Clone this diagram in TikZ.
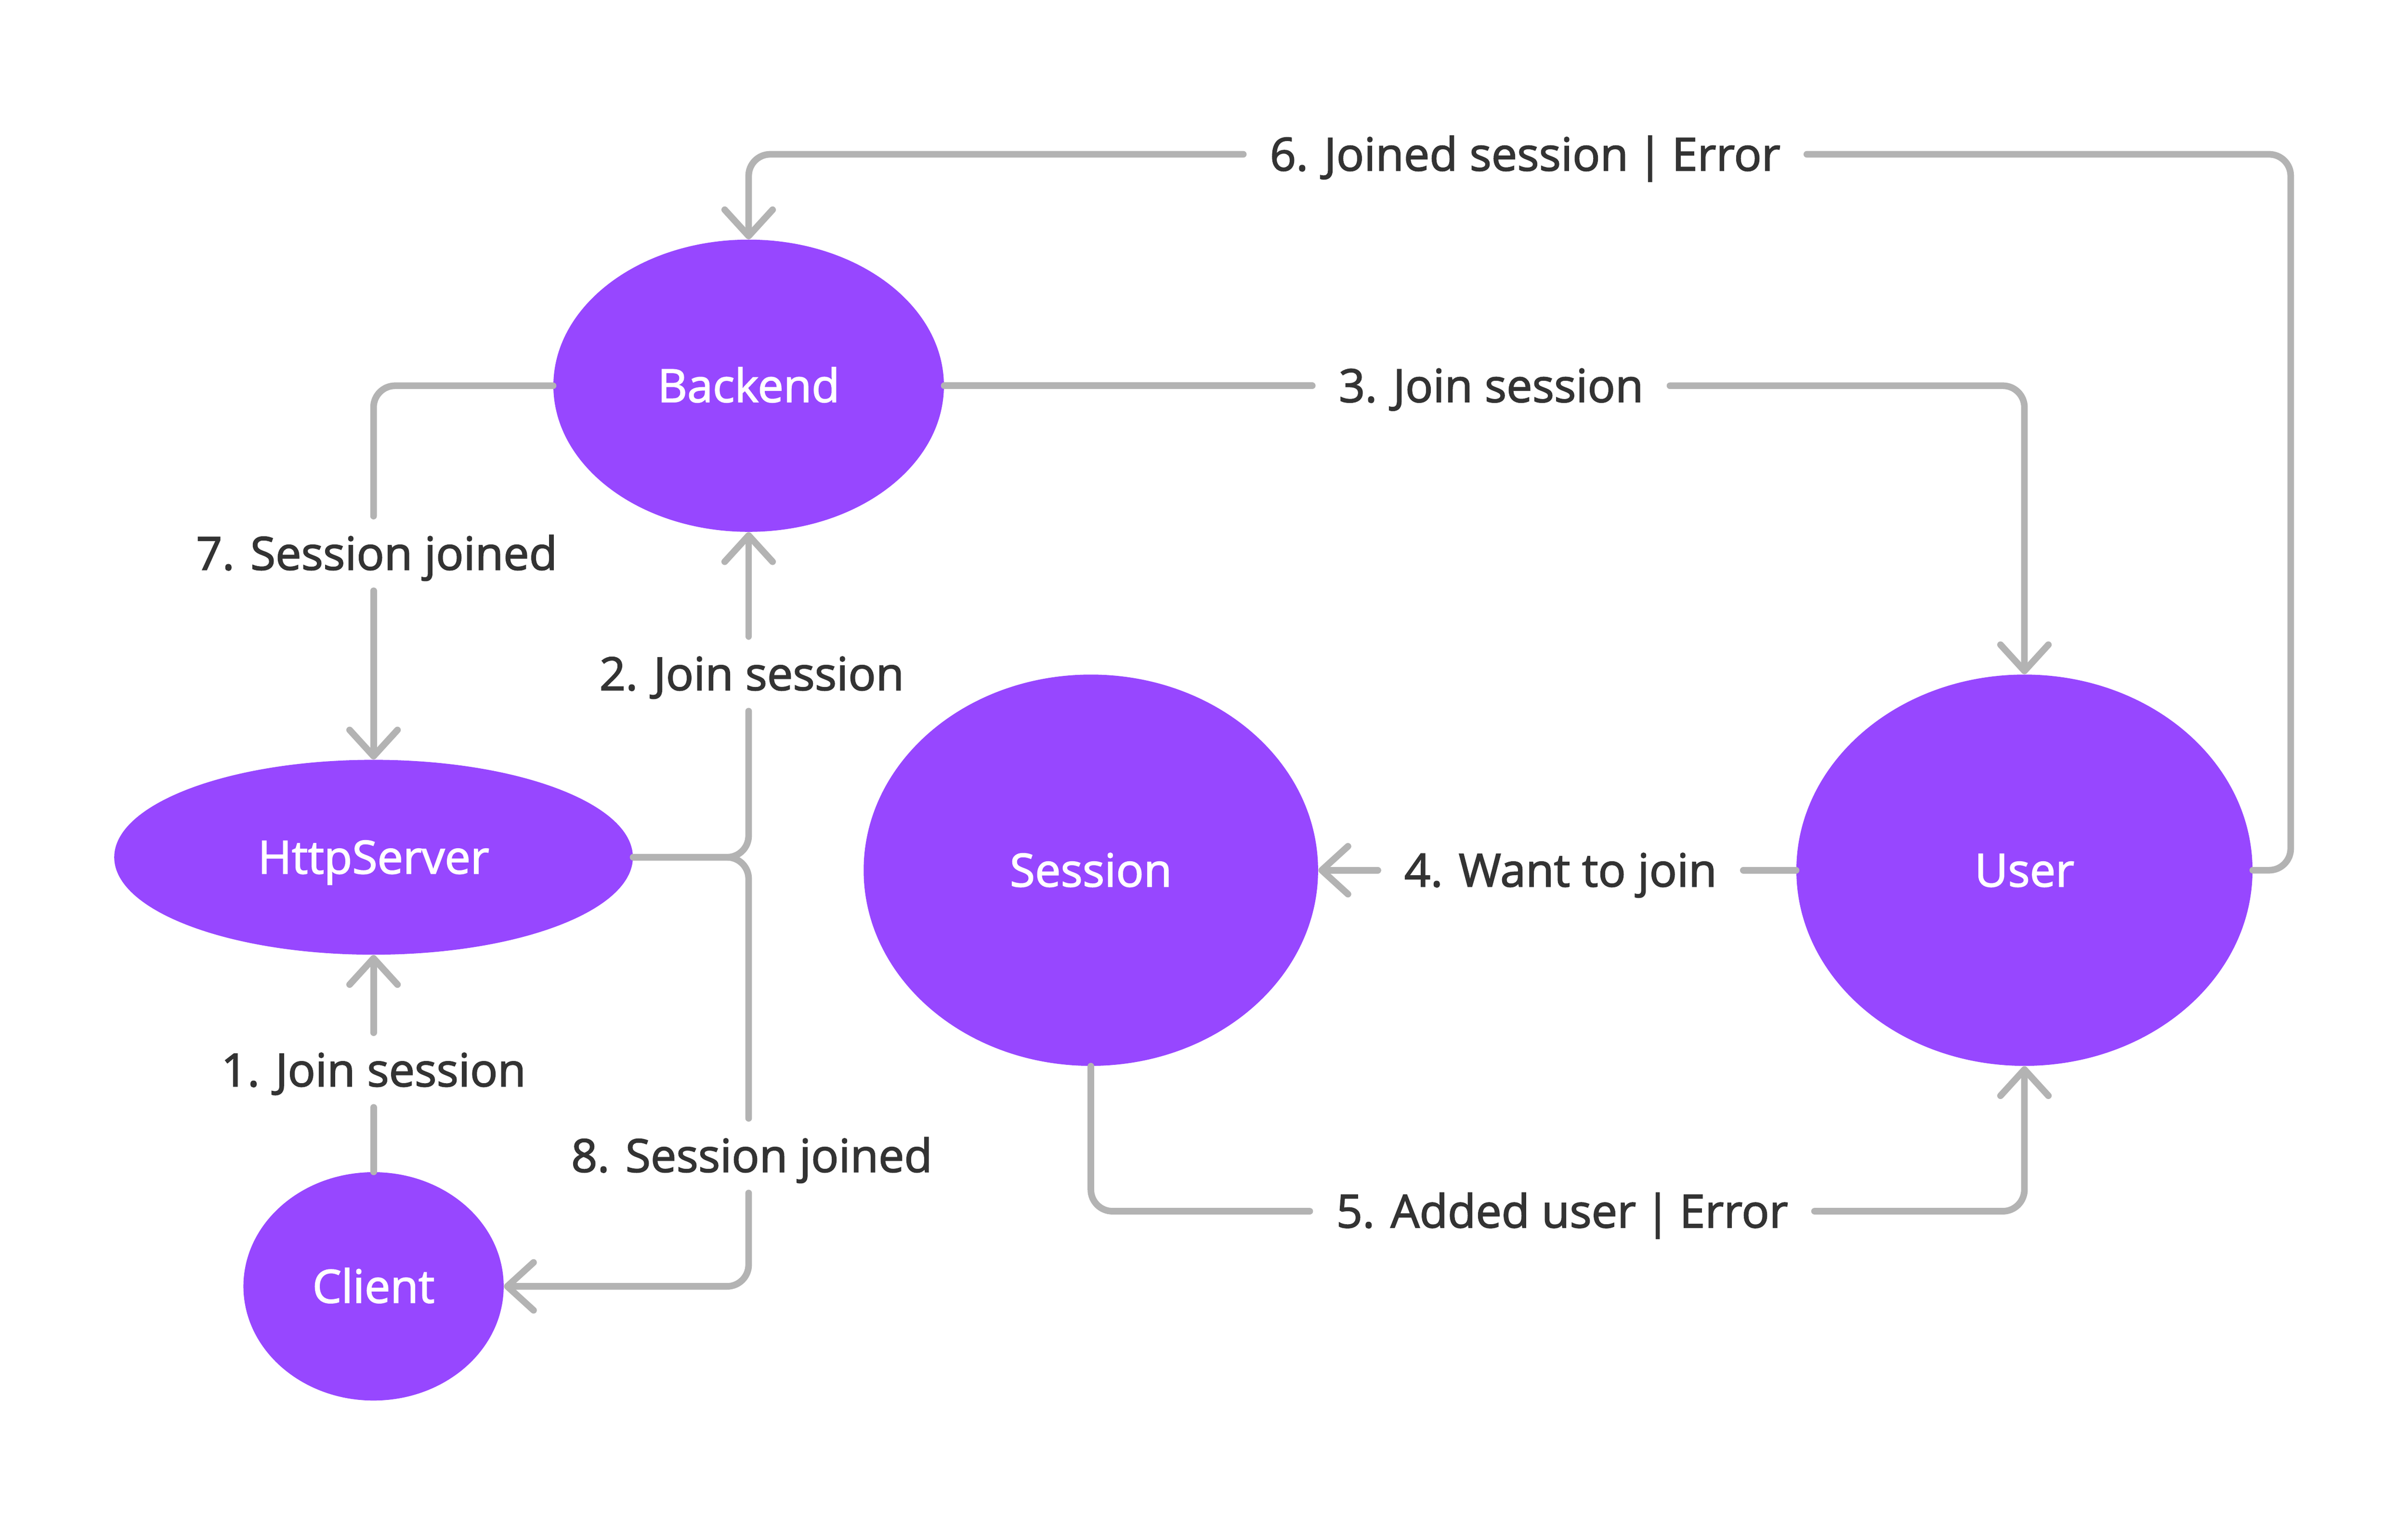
\documentclass[tikz,border=0pt]{standalone}
\usepackage{fontspec}
\setmainfont[FakeBold=2]{Open Sans}
\usetikzlibrary{arrows.meta,shapes.geometric}
\definecolor{nodepurple}{HTML}{9747FF}
\definecolor{linegray}{HTML}{B3B3B3}
\definecolor{textgray}{HTML}{333333}
\newcommand{\sepbar}{\hspace{0.2em}|\hspace{0.2em}}
\begin{document}
\begin{tikzpicture}[x=1pt,y=-1pt,
  every node/.style={font=\fontsize{29.7}{35}\selectfont},
  blob/.style={ellipse, fill=nodepurple, inner sep=0pt, text=white, text height=21.2pt, text depth=0pt},
  lbl/.style={text=textgray, inner xsep=17pt, inner ysep=13.4pt, text height=21.2pt, text depth=0pt},
  conn/.style={draw=linegray, line width=4.3pt, line cap=round, line join=round, rounded corners=14pt},
  arr/.style={conn, -{Straight Barb[length=17pt,width=31pt,round]}}
]
\useasboundingbox (0,0) rectangle (1560,981);

\node[blob, minimum width=253pt, minimum height=189.4pt] (backend) at (485,250) {Backend};
\node[blob, minimum width=336pt, minimum height=126.3pt] (http) at (242,555.6) {HttpServer};
\node[blob, minimum width=168.6pt, minimum height=148pt] (client) at (242,833.7) {Client};
\node[blob, minimum width=294.4pt, minimum height=253.6pt] (session) at (706.7,564) {Session};
\node[blob, minimum width=295.5pt, minimum height=253.6pt] (user) at (1311.5,564) {User};

\node[lbl] (l1) at (242,693.5) {1. Join session};
\node[lbl] (l2) at (487,436.7) {2. Join session};
\node[lbl] (l3) at (966,250) {3. Join session};
\node[lbl] (l4) at (1011,564) {4. Want to join};
\node[lbl] (l5) at (1012,785) {5. Added user\sepbar Error};
\node[lbl] (l6) at (988,100) {6. Joined session\sepbar Error};
\node[lbl] (l7) at (244,358.7) {7. Session joined};
\node[lbl] (l8) at (487,749) {8. Session joined};
\coordinate (c6) at (1484,100);

% 1
\draw[conn] (client.north) -- (client.north |- l1.south);
\draw[arr] (http.south |- l1.north) -- (http.south);
% 2
\draw[conn] (http.east) -| (backend.south |- l2.south);
\draw[arr] (backend.south |- l2.north) -- (backend.south);
% 3
\draw[conn] (backend.east) -- (l3.west);
\draw[arr] (l3.east) -| (user.north);
% 4
\draw[conn] (user.west) -- (l4.east);
\draw[arr] (l4.west) -- (session.east);
% 5
\draw[conn] (session.south) |- (l5.west);
\draw[arr] (l5.east) -| (user.south);
% 6
\draw[conn] (user.east) -| (c6) -- (l6.east);
\draw[arr] (l6.west) -| (backend.north);
% 7
\draw[conn] (backend.west) -| (http.north |- l7.north);
\draw[arr] (http.north |- l7.south) -- (http.north);
% 8
\draw[conn] (http.east) -| (backend.south |- l8.north);
\draw[arr] (backend.south |- l8.south) |- (client.east);
\end{tikzpicture}
\end{document}
